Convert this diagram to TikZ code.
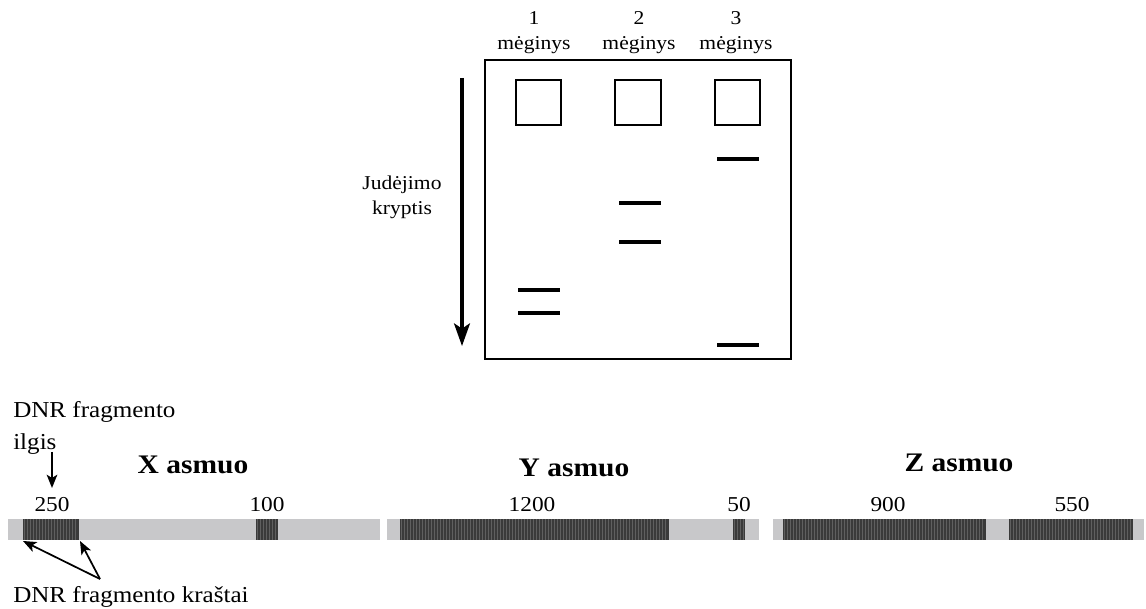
\documentclass[tikz,border=0pt]{standalone}
\usepackage{fontspec}
\setmainfont{Liberation Serif}[FakeStretch=1.1]
\usetikzlibrary{arrows.meta}
\definecolor{barlight}{RGB}{200,200,202}
\definecolor{segdark}{RGB}{58,58,58}
\definecolor{stripecol}{RGB}{95,95,95}
\tikzset{
  gelline/.style={line width=1.5pt, draw=black},
  wellbox/.style={line width=1.2pt, draw=black},
  band/.style={line width=3pt, draw=black},
  gellabel/.style={font=\fontsize{14.7}{19}\selectfont, align=center, inner sep=0pt},
  numlabel/.style={font=\fontsize{15.9}{16}\selectfont, inner sep=0pt, anchor=base},
  titlelabel/.style={font=\fontsize{20.1}{22}\selectfont\bfseries, inner sep=0pt, anchor=base},
  notelabel/.style={font=\fontsize{17.1}{24}\selectfont, align=left, inner sep=0pt},
  smallarrow/.style={line width=1.3pt, -{Stealth[length=10pt,width=8pt,inset=2.5pt]}},
  bigarrow/.style={line width=2.3pt, -{Stealth[length=17pt,width=12pt,inset=4pt]}},
  stripe/.style={draw=stripecol, line width=0.4pt}
}
\newcommand\dnaseg[2]{%
  \fill[segdark] (#1,519) rectangle (#2,540);
  \pgfmathtruncatemacro\nstripes{(#2-#1)/3}
  \foreach \i in {1,...,\nstripes} \draw[stripe] ({#1+3*\i-1.5},519) -- ({#1+3*\i-1.5},540);
}
\begin{document}
\begin{tikzpicture}[x=0.75pt,y=-0.75pt]
\useasboundingbox (0,0) rectangle (1146,609);
% gel
\draw[gelline] (485,60) rectangle (791,359);
\draw[wellbox] (516,80) rectangle (561,125);
\draw[wellbox] (615,80) rectangle (661,125);
\draw[wellbox] (715,80) rectangle (760,125);
\draw[band] (518,290) -- (560,290);
\draw[band] (518,313) -- (560,313);
\draw[band] (619,203) -- (661,203);
\draw[band] (619,242) -- (661,242);
\draw[band] (717,159) -- (759,159);
\draw[band] (717,345) -- (759,345);
% lane labels
\node[gellabel, anchor=base] (s1) at (534,50) {1\\mėginys};
\node[gellabel, anchor=base] (s2) at (639,50) {2\\mėginys};
\node[gellabel, anchor=base] (s3) at (736,50) {3\\mėginys};
% direction arrow
\coordinate (dirtop) at (462,78);
\coordinate (dirbot) at (462,346);
\draw[bigarrow] (dirtop) -- (dirbot);
\node[gellabel, anchor=base] (dir) at (402,215) {Judėjimo\\kryptis};
% bars
\fill[barlight] (8,519) rectangle (380,540);
\fill[barlight] (387,519) rectangle (759,540);
\fill[barlight] (773,519) rectangle (1144,540);
\dnaseg{23}{79}
\dnaseg{256}{278}
\dnaseg{400}{669}
\dnaseg{733}{745}
\dnaseg{783}{986}
\dnaseg{1009}{1133}
% titles
\node[titlelabel] (tx) at (193,474) {X asmuo};
\node[titlelabel] (ty) at (574,476) {Y asmuo};
\node[titlelabel] (tz) at (959,471) {Z asmuo};
% numbers
\node[numlabel] (n250) at (52,511) {250};
\node[numlabel] (n100) at (267,511) {100};
\node[numlabel] (n1200) at (532,511) {1200};
\node[numlabel] (n50) at (739,511) {50};
\node[numlabel] (n900) at (888,511) {900};
\node[numlabel] (n550) at (1072,511) {550};
% notes
\node[notelabel, anchor=base west] (len) at (13,450) {DNR fragmento\\ilgis};
\coordinate (lentip) at (52,452);
\draw[smallarrow] (lentip) -- (52,488);
\node[notelabel, anchor=base west] (edges) at (13,602) {DNR fragmento kraštai};
\coordinate (edgefrom) at (100,579);
\coordinate (edgeL) at (23,541);
\coordinate (edgeR) at (80,541);
\draw[smallarrow] (edgefrom) -- (edgeL);
\draw[smallarrow] (edgefrom) -- (edgeR);
\end{tikzpicture}
\end{document}
